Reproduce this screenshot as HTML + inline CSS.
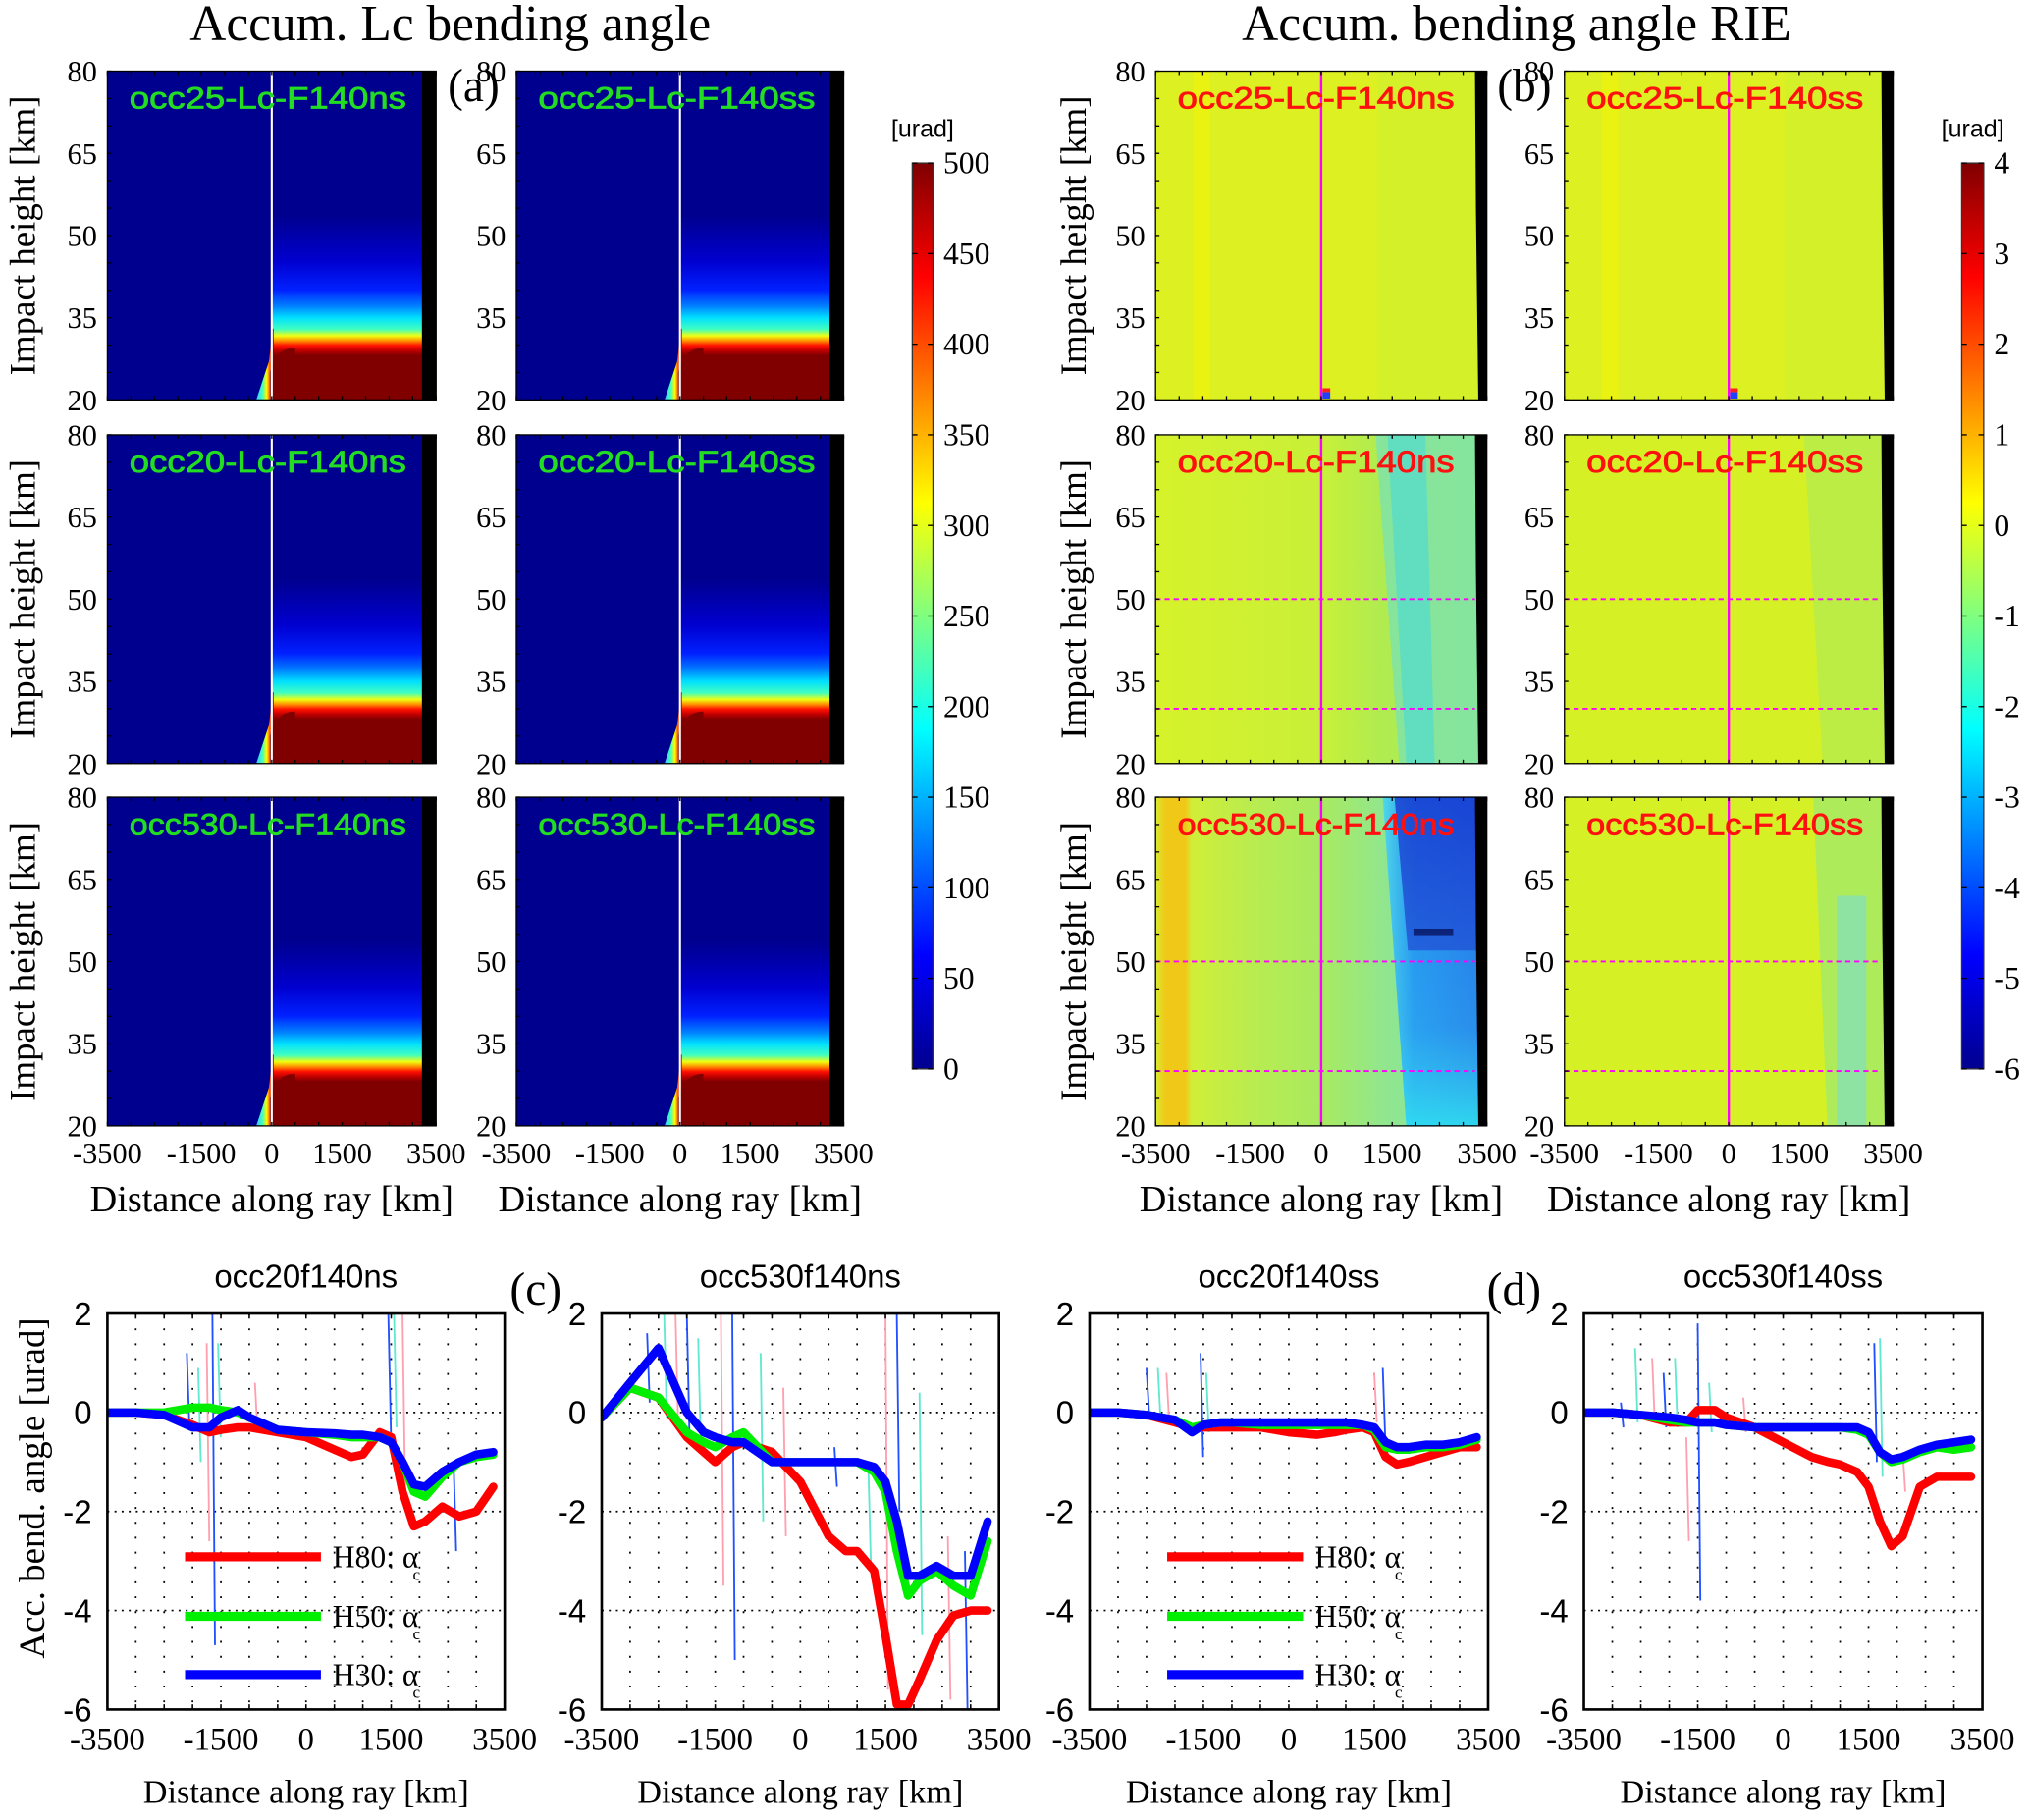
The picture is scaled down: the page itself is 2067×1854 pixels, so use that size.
<!DOCTYPE html>
<html><head><meta charset="utf-8"><style>
html,body{margin:0;padding:0;background:#fff;}
svg{display:block;}
</style></head><body>
<svg id="fig" xmlns="http://www.w3.org/2000/svg" width="2067" height="1854" viewBox="0 0 1568 1406.4" preserveAspectRatio="none">
<defs>
<linearGradient id="lcgrad" x1="0" y1="0" x2="0" y2="1">
<stop offset="0" stop-color="#00008f"/><stop offset="0.44" stop-color="#00008f"/>
<stop offset="0.58" stop-color="#0000d0"/><stop offset="0.665" stop-color="#0020ff"/>
<stop offset="0.715" stop-color="#0080ff"/><stop offset="0.75" stop-color="#00e0ff"/>
<stop offset="0.785" stop-color="#40ffc0"/><stop offset="0.805" stop-color="#f0ff10"/>
<stop offset="0.82" stop-color="#ff9000"/><stop offset="0.835" stop-color="#ff1000"/>
<stop offset="0.85" stop-color="#c00000"/><stop offset="0.865" stop-color="#800000"/>
<stop offset="1" stop-color="#800000"/></linearGradient>
<linearGradient id="jet" x1="0" y1="1" x2="0" y2="0">
<stop offset="0" stop-color="#00008f"/><stop offset="0.125" stop-color="#0000ff"/>
<stop offset="0.375" stop-color="#00ffff"/><stop offset="0.625" stop-color="#ffff00"/>
<stop offset="0.875" stop-color="#ff0000"/><stop offset="1" stop-color="#800000"/></linearGradient>
<linearGradient id="wedge" x1="0" y1="0" x2="1" y2="0">
<stop offset="0" stop-color="#40c0ff"/><stop offset="0.35" stop-color="#40ffc0"/><stop offset="0.6" stop-color="#ffff00"/><stop offset="0.8" stop-color="#ff4000"/><stop offset="1" stop-color="#800000"/></linearGradient>
<linearGradient id="bandBlue" x1="0" y1="0" x2="1" y2="0">
<stop offset="0" stop-color="#50d8e8"/><stop offset="0.3" stop-color="#2090f0"/><stop offset="1" stop-color="#2070e8"/></linearGradient>
<linearGradient id="bandV" x1="0" y1="0" x2="0" y2="1">
<stop offset="0" stop-color="#50c0f0" stop-opacity="0"/><stop offset="0.7" stop-color="#40c8f0" stop-opacity="0.3"/><stop offset="1" stop-color="#30e0f0" stop-opacity="0.9"/></linearGradient>
<linearGradient id="row2ns" x1="0" y1="0" x2="1" y2="0">
<stop offset="0" stop-color="#d6f22a"/><stop offset="0.5" stop-color="#c8f038"/><stop offset="0.68" stop-color="#b0ec50"/><stop offset="1" stop-color="#a8ea58"/></linearGradient>
<linearGradient id="row3ns" x1="0" y1="0" x2="1" y2="0">
<stop offset="0" stop-color="#d8ec30"/><stop offset="0.03" stop-color="#f0c818"/><stop offset="0.09" stop-color="#f0c818"/><stop offset="0.11" stop-color="#d0ee38"/><stop offset="0.3" stop-color="#b8ec50"/><stop offset="0.5" stop-color="#a8ea60"/><stop offset="0.7" stop-color="#90e690"/><stop offset="1" stop-color="#80e4a0"/></linearGradient>
</defs>
</svg>
<script>
// ---------- data ----------
const xs = [-3500,-3000,-2500,-2000,-1700,-1500,-1200,-1000,-500,0,500,800,1000,1300,1500,1700,1900,2100,2400,2700,3000,3300];
const c1Red   = [0,0,-0.05,-0.25,-0.4,-0.35,-0.3,-0.3,-0.4,-0.5,-0.75,-0.9,-0.85,-0.4,-0.5,-1.6,-2.3,-2.2,-1.9,-2.1,-2.0,-1.5];
const c1Green = [0,0,0,0.1,0.1,0.05,0,-0.1,-0.35,-0.4,-0.45,-0.5,-0.5,-0.5,-0.6,-1.0,-1.6,-1.7,-1.3,-1.0,-0.9,-0.85];
const c1Blue  = [0,0,-0.05,-0.3,-0.3,-0.1,0.05,-0.1,-0.35,-0.4,-0.42,-0.45,-0.45,-0.5,-0.6,-1.0,-1.45,-1.5,-1.2,-1.0,-0.85,-0.8];
const c2Red   = [-0.1,0.5,0.3,-0.5,-0.8,-1.0,-0.7,-0.6,-0.8,-1.4,-2.5,-2.8,-2.8,-3.2,-4.5,-5.9,-5.9,-5.4,-4.6,-4.1,-4.0,-4.0];
const c2Green = [-0.1,0.5,0.3,-0.4,-0.6,-0.7,-0.5,-0.4,-1.0,-1.0,-1.0,-1.0,-1.0,-1.2,-1.6,-2.8,-3.7,-3.4,-3.2,-3.5,-3.7,-2.6];
const c2Blue  = [-0.1,0.6,1.3,0.0,-0.4,-0.5,-0.6,-0.6,-1.0,-1.0,-1.0,-1.0,-1.0,-1.1,-1.4,-2.2,-3.3,-3.3,-3.1,-3.3,-3.3,-2.2];
const c3Red   = [0,0,-0.05,-0.2,-0.3,-0.3,-0.3,-0.3,-0.3,-0.4,-0.45,-0.4,-0.35,-0.3,-0.4,-0.9,-1.05,-1.0,-0.9,-0.8,-0.7,-0.7];
const c3Green = [0,0,-0.05,-0.15,-0.3,-0.25,-0.2,-0.2,-0.25,-0.25,-0.25,-0.25,-0.25,-0.25,-0.35,-0.7,-0.75,-0.75,-0.7,-0.7,-0.65,-0.55];
const c3Blue  = [0,0,-0.05,-0.15,-0.4,-0.25,-0.2,-0.2,-0.2,-0.2,-0.2,-0.2,-0.2,-0.25,-0.3,-0.6,-0.7,-0.7,-0.65,-0.65,-0.6,-0.5];
const c4Red   = [0,0,-0.05,-0.2,-0.2,0.05,0.05,-0.1,-0.3,-0.6,-0.9,-1.0,-1.05,-1.2,-1.5,-2.2,-2.7,-2.5,-1.5,-1.3,-1.3,-1.3];
const c4Green = [0,0,-0.05,-0.15,-0.2,-0.2,-0.2,-0.25,-0.3,-0.3,-0.3,-0.3,-0.3,-0.35,-0.45,-0.8,-1.0,-0.95,-0.8,-0.7,-0.75,-0.7];
const c4Blue  = [0,0,-0.05,-0.1,-0.15,-0.2,-0.2,-0.25,-0.3,-0.3,-0.3,-0.3,-0.3,-0.3,-0.4,-0.8,-0.95,-0.9,-0.75,-0.65,-0.6,-0.55];
// thin spikes: x [km], top, bottom
const c1SpikeX = [-2100,-1900,-1750,-1650,-1550,-900,1450,1550,1700,2600];
const c1SpikeTop = [1.2,0.9,1.4,2,1.4,0.6,2,2,2,-1];
const c1SpikeBot = [-0.3,-1.0,-2.6,-4.7,-0.5,-0.4,-0.4,-0.3,-1.5,-2.8];
const c2SpikeX = [-2700,-2400,-2200,-2000,-1800,-1400,-1200,-700,-300,600,1200,1500,1700,2100,2600,2900];
const c2SpikeTop = [1.6,2,2,2,1.5,2,2,1.2,0.5,-0.7,-1.2,2,2,0.4,-2.5,-2.8];
const c2SpikeBot = [0.2,-0.1,-0.2,-0.4,-0.6,-3.5,-5.0,-2.2,-2.5,-1.5,-3.2,-5.6,-2.0,-4.5,-5.8,-6];
const c3SpikeX = [-2500,-2300,-2150,-1550,-1450,1500,1650];
const c3SpikeTop = [0.9,0.9,0.8,1.2,0.8,0.8,0.9];
const c3SpikeBot = [0,-0.1,-0.1,-0.9,-0.4,-0.2,-0.6];
const c4SpikeX = [-2850,-2600,-2300,-2100,-1900,-1700,-1500,-1300,-700,1600,1700,2100];
const c4SpikeTop = [0.2,1.3,1.1,0.8,1.1,-0.5,1.8,0.6,0.3,1.4,1.5,-0.8];
const c4SpikeBot = [-0.3,-0.2,-0.2,-0.3,-0.3,-2.6,-3.8,-0.4,-0.4,-1.0,-1.3,-1.6];
const xTicks = [-3500,-1500,0,1500,3500];
const xTickLabels = ["-3500","-1500","0","1500","3500"];
const hTicks = [20,35,50,65,80];
const yTicksC = [2,0,-2,-4,-6];
const cbA = [0,50,100,150,200,250,300,350,400,450,500];
const cbB = [-6,-5,-4,-3,-2,-1,0,1,2,3,4];

// ---------- helpers ----------
const NS = "http://www.w3.org/2000/svg";
const svg = document.getElementById('fig');
function el(tag, attrs, parent, text){
  const e = document.createElementNS(NS, tag);
  for (const k in attrs) e.setAttribute(k, attrs[k]);
  if (text !== undefined) e.textContent = text;
  (parent||svg).appendChild(e);
  return e;
}
const SERIF = '"Liberation Serif", serif';
const SANS = '"Liberation Sans", sans-serif';

let t;
t = el('text',{x:348,y:31,'font-family':SERIF,'font-size':39,'text-anchor':'middle'},svg,'Accum. Lc bending angle');
 
t = el('text',{x:1172,y:31,'font-family':SERIF,'font-size':39,'text-anchor':'middle'},svg,'Accum. bending angle RIE');
 
[['(a)',366,78],['(b)',1178,78],['(c)',414,1008],['(d)',1170,1008]].forEach(a=>{
  const e = el('text',{x:a[1],y:a[2],'font-family':SERIF,'font-size':36,'text-anchor':'middle'},svg,a[0]);
   
});

// ---------- heatmaps ----------
const rowsY = [[55,309],[336,590],[616,870]];
const colsA = [[83,337],[399,652]];
const colsB = [[893,1149],[1209,1463]];
const namesA = [['occ25-Lc-F140ns','occ25-Lc-F140ss'],['occ20-Lc-F140ns','occ20-Lc-F140ss'],['occ530-Lc-F140ns','occ530-Lc-F140ss']];

function mapX(c,km){return c[0]+(km+3500)/7000*(c[1]-c[0]);}
function mapH(r,h){return r[1]-(h-20)/60*(r[1]-r[0]);}

function heatAxes(g,c,r,showX,label,labelColor){
  for(let k=-3500;k<=3500;k+=500){
    const x=mapX(c,k);
    el('line',{x1:x,x2:x,y1:r[1],y2:r[1]-3,stroke:'#000','stroke-width':1},g);
    el('line',{x1:x,x2:x,y1:r[0],y2:r[0]+3,stroke:'#000','stroke-width':1},g);
  }
  for(let h=20;h<=80;h+=5){
    const y=mapH(r,h);
    el('line',{x1:c[0],x2:c[0]+3,y1:y,y2:y,stroke:'#000','stroke-width':1},g);
  }
  el('rect',{x:c[0],y:r[0],width:c[1]-c[0],height:r[1]-r[0],fill:'none',stroke:'#000','stroke-width':1},g);
  hTicks.forEach(h=>{
    const e=el('text',{x:c[0]-8,y:mapH(r,h)+8,'font-family':SERIF,'font-size':23,'text-anchor':'end'},g,String(h));
     
  });
  const lab=el('text',{x:c[0]+17,y:r[0]+29,'font-family':SANS,'font-size':24,fill:labelColor,stroke:labelColor,'stroke-width':0.6,'textLength':214,'lengthAdjust':'spacingAndGlyphs'},g,label);
   
  if(showX){
    xTicks.forEach((k,i)=>{
      const e=el('text',{x:mapX(c,k),y:r[1]+29,'font-family':SERIF,'font-size':23,'text-anchor':'middle'},g,xTickLabels[i]);
       
    });
    const e=el('text',{x:(c[0]+c[1])/2,y:r[1]+66,'font-family':SERIF,'font-size':29,'text-anchor':'middle'},g,'Distance along ray [km]');
     
  }
}
function yTitle(x,yc,txt,size){
  const e=el('text',{x:0,y:0,'font-family':SERIF,'font-size':size,'text-anchor':'middle',transform:`translate(${x},${yc}) rotate(-90)`},svg,txt);
   
}

// panel a
rowsY.forEach((r,ri)=>{
  yTitle(27,(r[0]+r[1])/2,'Impact height [km]',28);
  yTitle(839,(r[0]+r[1])/2,'Impact height [km]',28);
  colsA.forEach((c,ci)=>{
    const g=el('g',{});
     
    el('rect',{x:c[0],y:r[0],width:c[1]-c[0],height:r[1]-r[0],fill:'#00008f'},g);
    el('rect',{x:mapX(c,0),y:r[0],width:mapX(c,3200)-mapX(c,0),height:r[1]-r[0],fill:'url(#lcgrad)'},g);
    el('path',{d:`M${mapX(c,-330)},${r[1]} L${mapX(c,-60)},${mapH(r,27)} Q${mapX(c,0)},${mapH(r,31)} ${mapX(c,0)},${mapH(r,33)} L${mapX(c,40)},${mapH(r,33)} L${mapX(c,40)},${r[1]} Z`,fill:'url(#wedge)'},g);
    el('path',{d:`M${mapX(c,-40)},${r[1]} L${mapX(c,-40)},${mapH(r,25)} Q${mapX(c,80)},${mapH(r,29.5)} ${mapX(c,500)},${mapH(r,29.5)} L${mapX(c,500)},${r[1]} Z`,fill:'#800000'},g);
    el('rect',{x:mapX(c,3200),y:r[0],width:mapX(c,3500)-mapX(c,3200),height:r[1]-r[0],fill:'#000'},g);
    el('line',{x1:mapX(c,0),x2:mapX(c,0),y1:r[0],y2:r[1],stroke:'#fff','stroke-width':1.6},g);
    heatAxes(g,c,r,ri===2,namesA[ri][ci],'#22dd22');
  });
});

// panel b
function edge(h){return 1300+(80-h)/60*500;}
rowsY.forEach((r,ri)=>{
  colsB.forEach((c,ci)=>{
    const g=el('g',{});
     
    const W=c[1]-c[0];
    if(ri===0){
      el('rect',{x:c[0],y:r[0],width:W,height:r[1]-r[0],fill:'#dcf022'},g);
      el('rect',{x:mapX(c,-2700),y:r[0],width:W*0.05,height:r[1]-r[0],fill:'#ecf20e',opacity:0.8},g);
      el('rect',{x:mapX(c,1200),y:r[0],width:W*0.3,height:r[1]-r[0],fill:'#d2f02c',opacity:0.8},g);
      el('rect',{x:mapX(c,0)+1,y:r[1]-6,width:6,height:5,fill:'#2040ff'},g);
      el('rect',{x:mapX(c,0)+1,y:r[1]-9,width:6,height:3,fill:'#ff2020'},g);
    } else if(ri===1){
      if(ci===0){
        el('rect',{x:c[0],y:r[0],width:W,height:r[1]-r[0],fill:'url(#row2ns)'},g);
        const p=[[mapX(c,1150),r[0]],[mapX(c,3500),r[0]],[mapX(c,3500),r[1]],[mapX(c,1650),r[1]]];
        el('polygon',{points:p.map(q=>q.join(',')).join(' '),fill:'#80e4a8',opacity:0.85},g);
        const p2=[[mapX(c,1400),r[0]],[mapX(c,2200),r[0]],[mapX(c,2400),r[1]],[mapX(c,1800),r[1]]];
        el('polygon',{points:p2.map(q=>q.join(',')).join(' '),fill:'#58dcc8',opacity:0.8},g);
      } else {
        el('rect',{x:c[0],y:r[0],width:W,height:r[1]-r[0],fill:'#d6f026'},g);
        const p=[[mapX(c,1600),r[0]],[mapX(c,3500),r[0]],[mapX(c,3500),r[1]],[mapX(c,2000),r[1]]];
        el('polygon',{points:p.map(q=>q.join(',')).join(' '),fill:'#b8ec48',opacity:0.9},g);
      }
    } else {
      if(ci===0){
        el('rect',{x:c[0],y:r[0],width:W,height:r[1]-r[0],fill:'url(#row3ns)'},g);
        const p=[[mapX(c,edge(80)),r[0]],[mapX(c,3500),r[0]],[mapX(c,3500),r[1]],[mapX(c,edge(20)),r[1]]];
        el('polygon',{points:p.map(q=>q.join(',')).join(' '),fill:'url(#bandBlue)'},g);
        const p2=[[mapX(c,edge(80)+250),r[0]],[mapX(c,3500),r[0]],[mapX(c,3500),mapH(r,52)],[mapX(c,edge(52)+300),mapH(r,52)]];
        el('polygon',{points:p2.map(q=>q.join(',')).join(' '),fill:'#1838d0',opacity:0.8},g);
        el('rect',{x:mapX(c,1950),y:mapH(r,56),width:W*0.12,height:5,fill:'#000060'},g);
        const p3=[[mapX(c,edge(80)),r[0]],[mapX(c,3500),r[0]],[mapX(c,3500),r[1]],[mapX(c,edge(20)),r[1]]];
        el('polygon',{points:p3.map(q=>q.join(',')).join(' '),fill:'url(#bandV)'},g);
      } else {
        el('rect',{x:c[0],y:r[0],width:W,height:r[1]-r[0],fill:'#d6f026'},g);
        const p=[[mapX(c,1800),r[0]],[mapX(c,3500),r[0]],[mapX(c,3500),r[1]],[mapX(c,2100),r[1]]];
        el('polygon',{points:p.map(q=>q.join(',')).join(' '),fill:'#a8ea60',opacity:0.9},g);
        el('rect',{x:mapX(c,2300),y:mapH(r,62),width:W*0.09,height:r[1]-mapH(r,62),fill:'#80e0c0',opacity:0.7},g);
      }
    }
    el('polygon',{points:`${mapX(c,3250)},${r[0]} ${c[1]},${r[0]} ${c[1]},${r[1]} ${mapX(c,3320)},${r[1]} ${mapX(c,3270)},${mapH(r,55)}`,fill:'#000'},g);
    el('line',{x1:mapX(c,0),x2:mapX(c,0),y1:r[0],y2:r[1],stroke:'#ff00ff','stroke-width':1.8},g);
    if(ri>0){
      [50,30].forEach(h=>{
        el('line',{x1:c[0],x2:mapX(c,3250),y1:mapH(r,h),y2:mapH(r,h),stroke:'#ff00ff','stroke-width':1.4,'stroke-dasharray':'4,3'},g);
      });
    }
    heatAxes(g,c,r,ri===2,namesA[ri][ci],'#ff1010');
  });
});

// colorbars
function colorbar(x0,x1,y0,y1,vals,name){
  const g=el('g',{});
   
  el('rect',{x:x0,y:y0,width:x1-x0,height:y1-y0,fill:'url(#jet)',stroke:'#333','stroke-width':1},g);
  vals.forEach((v,i)=>{
    const y=y1-i/(vals.length-1)*(y1-y0);
    el('line',{x1:x0,x2:x0+4,y1:y,y2:y,stroke:'#000','stroke-width':1},g);
    el('line',{x1:x1-4,x2:x1,y1:y,y2:y,stroke:'#000','stroke-width':1},g);
    const e=el('text',{x:x1+8,y:y+8,'font-family':SERIF,'font-size':24},g,String(v));
     
  });
  const u=el('text',{x:(x0+x1)/2,y:y0-20,'font-family':SANS,'font-size':19,'text-anchor':'middle'},g,'[urad]');
   
}
colorbar(705,721,126,826,cbA,'colorbar-a');
colorbar(1516,1533,126,826,cbB,'colorbar-b');

// ---------- line plots ----------
const plots = [
  {x0:83,x1:390,title:'occ20f140ns',red:c1Red,green:c1Green,blue:c1Blue,sx:c1SpikeX,st:c1SpikeTop,sb:c1SpikeBot,legend:true},
  {x0:465,x1:772,title:'occ530f140ns',red:c2Red,green:c2Green,blue:c2Blue,sx:c2SpikeX,st:c2SpikeTop,sb:c2SpikeBot,legend:false},
  {x0:842,x1:1150,title:'occ20f140ss',red:c3Red,green:c3Green,blue:c3Blue,sx:c3SpikeX,st:c3SpikeTop,sb:c3SpikeBot,legend:true},
  {x0:1224,x1:1532,title:'occ530f140ss',red:c4Red,green:c4Green,blue:c4Blue,sx:c4SpikeX,st:c4SpikeTop,sb:c4SpikeBot,legend:false}
];
const PY0=1015, PY1=1321;
const spikeColors=['#2050ff','#60e8d0','#ffa0b0'];
yTitle(34,1150,'Acc. bend. angle [urad]',28);
plots.forEach((p,pi)=>{
  const X=k=>p.x0+(k+3500)/7000*(p.x1-p.x0);
  const Y=v=>PY0+(2-v)/8*(PY1-PY0);
  const g=el('g',{});
   
  const clipId='clip'+pi;
  const cp=el('clipPath',{id:clipId},g);
  el('rect',{x:p.x0,y:PY0,width:p.x1-p.x0,height:PY1-PY0},cp);
  for(let k=-3000;k<=3000;k+=500){
    el('line',{x1:X(k),x2:X(k),y1:PY0,y2:PY1,stroke:'#000','stroke-width':1.3,'stroke-dasharray':'1.5,10'},g);
  }
  [0,-2,-4].forEach(v=>el('line',{x1:p.x0,x2:p.x1,y1:Y(v),y2:Y(v),stroke:'#000','stroke-width':1.3,'stroke-dasharray':'1.5,4'},g));
  const dg=el('g',{'clip-path':`url(#${clipId})`},g);
  p.sx.forEach((k,i)=>{
    const s=el('line',{x1:X(k),x2:X(k)+2,y1:Y(p.st[i]),y2:Y(p.sb[i]),stroke:spikeColors[i%3],'stroke-width':1.4},dg);
     
  });
  [['red',p.red,'#ff0000'],['green',p.green,'#00ee00'],['blue',p.blue,'#0000ff']].forEach(sr=>{
    const d=xs.map((k,i)=>(i?'L':'M')+X(k).toFixed(1)+','+Y(sr[1][i]).toFixed(1)).join(' ');
    const ln=el('path',{d:d,fill:'none',stroke:sr[2],'stroke-width':6.5,'stroke-linejoin':'round','stroke-linecap':'round'},dg);
     
  });
  el('rect',{x:p.x0,y:PY0,width:p.x1-p.x0,height:PY1-PY0,fill:'none',stroke:'#000','stroke-width':2},g);
  for(let k=-3500;k<=3500;k+=500){
    el('line',{x1:X(k),x2:X(k),y1:PY1,y2:PY1-4,stroke:'#000','stroke-width':1.2},g);
    el('line',{x1:X(k),x2:X(k),y1:PY0,y2:PY0+4,stroke:'#000','stroke-width':1.2},g);
  }
  yTicksC.forEach(v=>{
    const e=el('text',{x:p.x0-12,y:Y(v)+9,'font-family':SANS,'font-size':25,'text-anchor':'end'},g,String(v));
     
  });
  xTicks.forEach((k,i)=>{
    const e=el('text',{x:X(k),y:PY1+31,'font-family':SERIF,'font-size':25,'text-anchor':'middle'},g,xTickLabels[i]);
     
  });
  const xt=el('text',{x:(p.x0+p.x1)/2,y:PY1+72,'font-family':SERIF,'font-size':26,'text-anchor':'middle'},g,'Distance along ray [km]');
   
  const tt=el('text',{x:(p.x0+p.x1)/2,y:995,'font-family':SANS,'font-size':25,'text-anchor':'middle'},g,p.title);
   
  if(p.legend){
    [['H80','#ff0000',1203],['H50','#00ee00',1249],['H30','#0000ff',1294]].forEach(L=>{
      const lg=el('g',{},g);
       
      el('line',{x1:p.x0+60,x2:p.x0+165,y1:L[2],y2:L[2],stroke:L[1],'stroke-width':7},lg);
      el('text',{x:p.x0+174,y:L[2]+8,'font-family':SERIF,'font-size':24},lg,L[0]+': α');
      el('text',{x:p.x0+236,y:L[2]+18,'font-family':SERIF,'font-size':13},lg,'c');
    });
  }
});
</script>
</body></html>
